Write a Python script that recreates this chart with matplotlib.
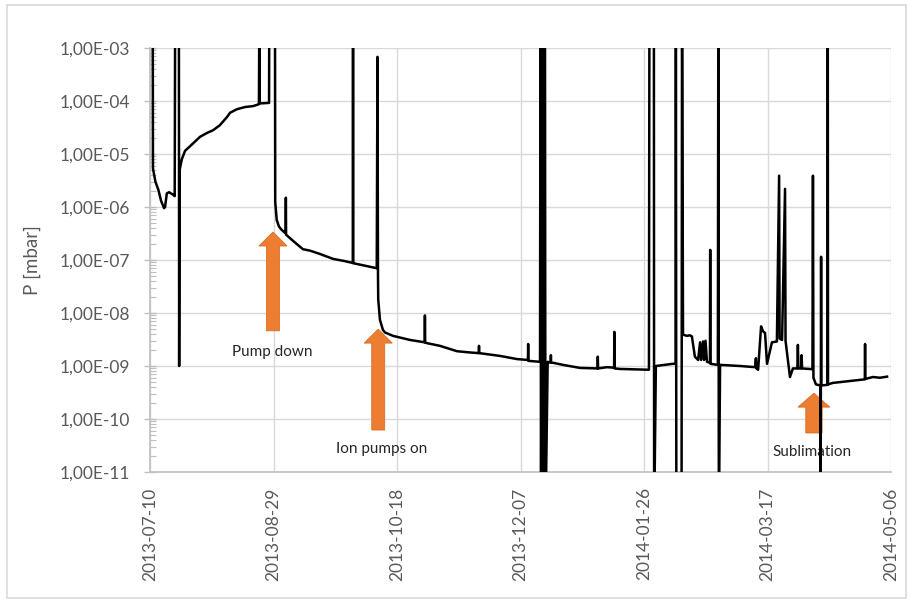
import matplotlib
matplotlib.use("Agg")
import matplotlib.pyplot as plt
import matplotlib.dates as mdates
import matplotlib.ticker as mticker
import matplotlib.patches as mpatches
import numpy as np
import pandas as pd

plt.rcParams['font.family'] = ['Lato', 'DejaVu Sans']

start = pd.Timestamp('2013-07-10')

# days since 2013-07-10, pressure in mbar
days = [0.9, 1.1, 1.2, 1.3, 2.2, 3.4, 4.5, 5.7, 6.1, 6.8, 7.7, 9.4, 10.0, 10.2,
        11.7, 11.8, 12.0, 12.9, 14.2, 16.2, 20.2, 23.1, 25.5, 28.3, 31.2, 32.4,
        35.2, 38.5, 41.7, 44.1, 44.3, 44.4, 48.2, 48.3, 50.6, 50.7, 51.3, 52.2,
        53.3, 54.9, 55.0, 55.1, 57.9, 61.9, 64.8, 68.8, 74.1, 79.0, 82.1, 82.2,
        82.3, 87.0, 91.8, 92.1, 92.3, 92.4, 93.1, 94.3, 95.1, 98.4, 105.3,
        111.2, 111.3, 111.4, 112.1, 117.4, 124.3, 129.6, 133.1, 133.2, 133.3,
        141.7, 148.6, 153.0, 153.1, 153.2, 157.9,
        158.1, 158.3, 158.9, 159.1, 159.9, 160.1, 161.0,
        162.2, 162.3, 162.4, 163.2, 167.2, 174.1, 181.2, 181.3, 181.4, 185.0,
        187.9, 188.0, 188.1, 190.3, 194.3, 202.0, 202.2, 204.0, 204.1, 204.8,
        208.5, 211.7, 212.8, 212.9, 213.1, 215.2, 215.4, 215.8, 217.4, 218.6,
        219.4, 220.6, 221.9, 222.7, 223.1, 223.9, 224.3, 224.9, 225.5, 226.7,
        226.8, 226.9, 229.9, 230.1, 230.3, 230.8, 238.9, 245.0, 245.3, 245.5,
        246.2, 247.4, 248.2, 249.0, 249.8, 251.8, 253.8, 254.7, 254.9, 255.9,
        257.1, 257.3, 259.1, 260.3, 262.1, 262.3, 262.5, 263.6, 263.8, 264.0,
        268.2, 268.4, 268.6, 269.6, 271.4, 271.5, 271.7, 271.8, 274.3, 274.4,
        274.5, 276.5, 283.4, 289.4, 289.5, 289.6, 292.7, 295.5, 298.4]

pressure = [1e-2, 1e-2, 5.5e-6, 5e-6, 3e-6, 2.1e-6, 1.3e-6, 9.5e-7, 1.0e-6,
            1.8e-6, 1.9e-6, 1.7e-6, 1.6e-6, 1e-2,
            1e-2, 1e-9, 5e-6, 8e-6, 1.15e-5, 1.4e-5, 2.1e-5, 2.5e-5, 2.8e-5,
            3.5e-5, 5e-5, 6e-5,
            7e-5, 7.7e-5, 8e-5, 8.7e-5, 1e-2, 9e-5, 9.2e-5, 1e-2, 1e-2, 1.25e-6,
            5.7e-7, 4.3e-7,
            3.7e-7, 3.2e-7, 1.5e-6, 3e-7, 2.3e-7, 1.6e-7, 1.5e-7, 1.3e-7, 1.05e-7,
            9.5e-8, 8.8e-8, 1e-2,
            8.7e-8, 7.8e-8, 7e-8, 6.8e-4, 5e-8, 1.8e-8, 7.4e-9, 4.8e-9, 4.3e-9,
            3.7e-9, 3.1e-9,
            2.8e-9, 9e-9, 2.8e-9, 2.7e-9, 2.4e-9, 1.9e-9, 1.8e-9, 1.75e-9,
            2.4e-9, 1.75e-9,
            1.55e-9, 1.35e-9, 1.3e-9, 2.6e-9, 1.25e-9, 1.2e-9,
            1e-2, 1e-12, 1e-2, 1e-12, 1e-2, 1e-12, 1.2e-9,
            1.15e-9, 1.6e-9, 1.15e-9, 1.15e-9, 1.05e-9, 9.2e-10, 9e-10, 1.5e-9,
            9e-10, 9.5e-10,
            9.3e-10, 4.4e-9, 9e-10, 8.8e-10, 8.7e-10, 8.5e-10, 1e-2, 1e-2, 1e-12,
            1e-9,
            1.05e-9, 1.1e-9, 1.1e-9, 1e-2, 1e-12, 1e-12, 1e-2, 3.9e-9, 3.7e-9,
            3.8e-9,
            3.6e-9, 1.5e-9, 1.3e-9, 2.8e-9, 1.3e-9, 2.9e-9, 1.3e-9, 3e-9, 1.2e-9,
            1.15e-9,
            1.55e-7, 1.1e-9, 1.05e-9, 1e-2, 1e-12, 1.05e-9, 1e-9, 9.5e-10, 1.4e-9,
            9e-10,
            8.5e-10, 5.6e-9, 4.5e-9, 4.2e-9, 1.1e-9, 2.8e-9, 2.9e-9, 3.9e-6, 3.3e-9,
            3.1e-9,
            2.2e-6, 3e-9, 6.2e-10, 9e-10, 9e-10, 2.5e-9, 9e-10, 9e-10, 1.6e-9, 9e-10,
            8.7e-10, 3.9e-6, 6e-10, 4.5e-10, 4.3e-10, 1e-12, 1.15e-7, 4.3e-10,
            4.4e-10, 1e-2,
            4.5e-10, 4.8e-10, 5.2e-10, 5.6e-10, 2.6e-9, 5.7e-10, 6.2e-10, 6e-10,
            6.3e-10]

tick_days = [0, 50, 100, 150, 200, 250, 300]

# annotations: label, arrow x, arrow tip y, arrow tail y, text x, text y (axes fraction)
notes = [
    ("Pump down", 0.166, 0.566, 0.333, 0.165, 0.283),
    ("Ion pumps on", 0.308, 0.337, 0.099, 0.313, 0.054),
    ("Sublimation", 0.896, 0.186, 0.092, 0.893, 0.047),
]

dates = start + pd.to_timedelta(days, unit='D')
ticks = start + pd.to_timedelta(tick_days, unit='D')

fig = plt.figure(figsize=(9.12, 6.0), dpi=100)
ax = fig.add_axes([150 / 912, 1 - 472 / 600, 741 / 912, 424 / 600])

fig.patches.append(mpatches.Rectangle((7 / 912, 2 / 600), 899 / 912, 593 / 600,
                                      transform=fig.transFigure, fill=False,
                                      edgecolor='#d9d9d9', lw=1.2))

ax.plot(dates, pressure, color='black', lw=1.8, zorder=3, solid_joinstyle='round')

ax.set_yscale('log')
ax.set_ylim(1e-11, 1e-3)
ax.set_xlim(ticks[0], ticks[-1])

ax.yaxis.set_major_locator(mticker.LogLocator(base=10, numticks=20))
ax.yaxis.set_minor_locator(mticker.LogLocator(base=10, subs=np.arange(2, 10), numticks=20))
ax.yaxis.set_major_formatter(mticker.FuncFormatter(lambda v, p: f"{v:.2E}".replace('.', ',')))
ax.yaxis.set_minor_formatter(mticker.NullFormatter())

ax.set_xticks(ticks)
ax.xaxis.set_major_formatter(mdates.DateFormatter('%Y-%m-%d'))
plt.setp(ax.get_xticklabels(), rotation=90)

ax.tick_params(axis='y', which='major', direction='inout', length=9, width=1,
               color='#bfbfbf', labelsize=12.5, labelcolor='#595959', pad=10)
ax.tick_params(axis='y', which='minor', direction='in', length=4, width=0.8,
               color='#bfbfbf')
ax.tick_params(axis='x', length=0, labelsize=12.5, labelcolor='#595959', pad=11)

ax.grid(True, which='major', color='#d9d9d9', lw=1, zorder=0)
ax.set_axisbelow(True)
for s in ['top', 'right']:
    ax.spines[s].set_visible(False)
for s in ['left', 'bottom']:
    ax.spines[s].set_color('#bfbfbf')
    ax.spines[s].set_linewidth(1.2)

ax.set_ylabel('P [mbar]', fontsize=13.5, color='#595959', labelpad=13)

for label, x, tip, tail, tx, ty in notes:
    w = 0.022 if label == "Sublimation" else 0.0175
    hw = 0.043 if label == "Sublimation" else 0.038
    ax.add_patch(mpatches.FancyArrow(x, tail, 0, tip - tail, width=w,
                                     head_width=hw, head_length=0.033,
                                     length_includes_head=True,
                                     transform=ax.transAxes, facecolor='#ed7d31',
                                     edgecolor='#d86f28', lw=0.6, zorder=2))
    ax.text(tx, ty, label, transform=ax.transAxes, ha='center', va='center',
            fontsize=11, color='#262626', zorder=2)

fig.savefig('out.png', dpi=100)
